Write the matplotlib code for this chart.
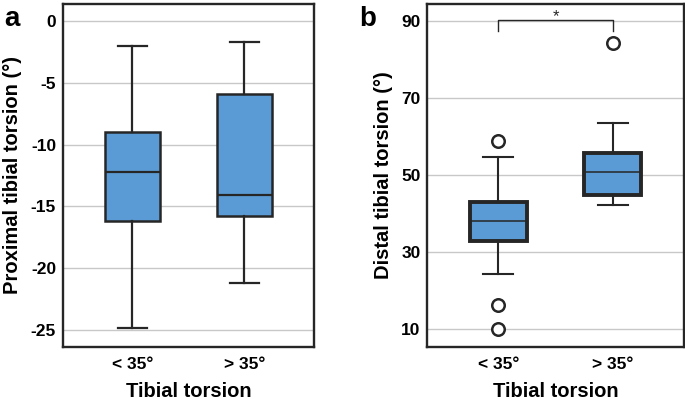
import matplotlib
matplotlib.use("Agg")
import matplotlib.pyplot as plt

plt.rcParams['font.family'] = ['Liberation Sans', 'DejaVu Sans']
plt.rcParams['font.weight'] = 'bold'

# --- DATA ---
groups = ["< 35°", "> 35°"]

# Proximal tibial torsion (panel a)
prox_whislo = [-24.9, -21.2]
prox_q1 = [-16.2, -15.8]
prox_med = [-12.2, -14.05]
prox_q3 = [-9.0, -5.9]
prox_whishi = [-2.0, -1.7]
prox_fliers = [[], []]
prox_ticks = [0, -5, -10, -15, -20, -25]

# Distal tibial torsion (panel b)
dist_whislo = [24.4, 42.3]
dist_q1 = [33.0, 44.9]
dist_med = [38.1, 50.9]
dist_q3 = [42.9, 55.6]
dist_whishi = [54.6, 63.5]
dist_fliers = [[58.8, 16.2, 10.0], [84.4]]
dist_ticks = [10, 30, 50, 70, 90]

BOX_COLOR = '#5b9bd5'
EDGE = '#262626'


def make_stats(lo, q1, med, q3, hi, fl):
    return [dict(whislo=lo[i], q1=q1[i], med=med[i], q3=q3[i], whishi=hi[i],
                 fliers=fl[i], label=groups[i]) for i in range(len(groups))]


def style_axes(ax, ticks, ylim, ylabel):
    ax.set_ylim(*ylim)
    ax.set_xlim(-0.62, 1.62)
    ax.set_yticks(ticks)
    ax.set_yticklabels([str(t) for t in ticks])
    ax.yaxis.grid(True, color='#c8c8c8', linewidth=1.0)
    ax.set_axisbelow(True)
    ax.tick_params(axis='both', length=0, labelsize=12.5, pad=5)
    ax.tick_params(axis='x', pad=7)
    for s in ax.spines.values():
        s.set_linewidth(1.7)
        s.set_color(EDGE)
    ax.set_xlabel("Tibial torsion", fontsize=14.5, fontweight='bold', labelpad=7.5)
    ax.set_ylabel(ylabel, fontsize=14.5, fontweight='bold', labelpad=6)


fig = plt.figure(figsize=(6.85, 4.01), dpi=100)
ax_a = fig.add_axes([0.092, 0.135, 0.366, 0.855])
ax_b = fig.add_axes([0.624, 0.135, 0.374, 0.855])

# Panel a
ax_a.bxp(make_stats(prox_whislo, prox_q1, prox_med, prox_q3, prox_whishi, prox_fliers),
         positions=[0, 1], widths=0.49, patch_artist=True, showfliers=False,
         boxprops=dict(facecolor=BOX_COLOR, edgecolor=EDGE, linewidth=1.8),
         medianprops=dict(color=EDGE, linewidth=1.6),
         whiskerprops=dict(color=EDGE, linewidth=1.6),
         capprops=dict(color=EDGE, linewidth=1.6), capwidths=0.26)
style_axes(ax_a, prox_ticks, (-26.4, 1.4), "Proximal tibial torsion (°)")

# Panel b
ax_b.bxp(make_stats(dist_whislo, dist_q1, dist_med, dist_q3, dist_whishi, dist_fliers),
         positions=[0, 1], widths=0.5, patch_artist=True, showfliers=True,
         boxprops=dict(facecolor=BOX_COLOR, edgecolor=EDGE, linewidth=2.8),
         medianprops=dict(color=EDGE, linewidth=1.1),
         whiskerprops=dict(color=EDGE, linewidth=1.5),
         capprops=dict(color=EDGE, linewidth=1.5), capwidths=0.26,
         flierprops=dict(marker='o', markersize=9, markerfacecolor='white',
                         markeredgecolor=EDGE, markeredgewidth=1.8))
style_axes(ax_b, dist_ticks, (5.4, 94.4), "Distal tibial torsion (°)")

# significance bracket
ax_b.plot([0, 0, 1, 1], [87.4, 90.2, 90.2, 87.4], color=EDGE, linewidth=1.0)
ax_b.text(0.5, 89.3, "*", ha='center', va='bottom', fontsize=12, fontweight='normal', color=EDGE)

# panel letters
fig.text(0.006, 0.985, "a", fontsize=20, fontweight='bold', va='top', ha='left')
fig.text(0.525, 0.985, "b", fontsize=20, fontweight='bold', va='top', ha='left')

fig.savefig("out.png", dpi=100)
